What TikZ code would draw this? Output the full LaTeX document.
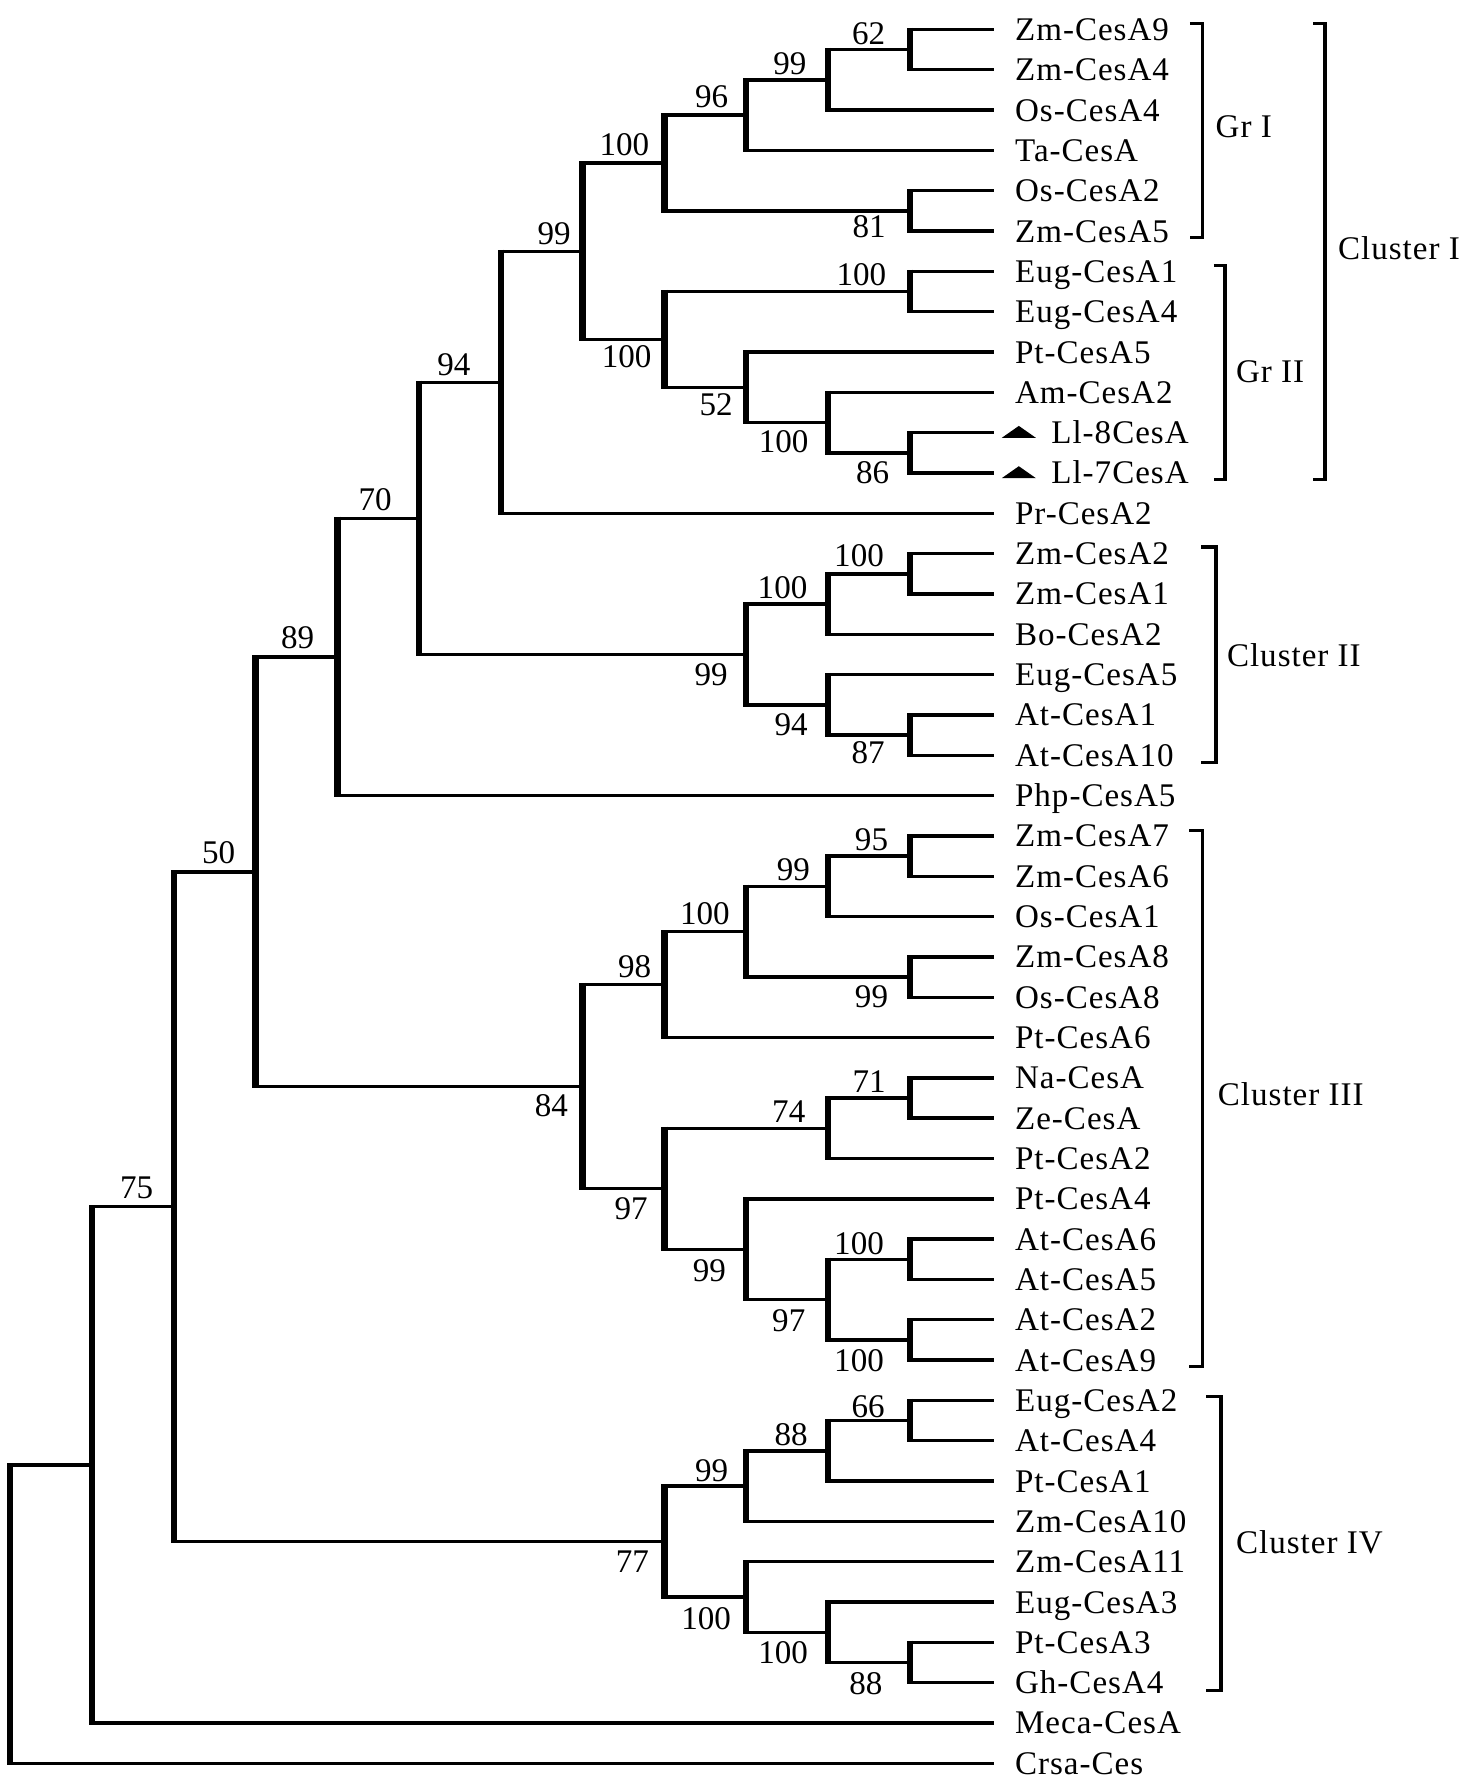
\documentclass[tikz,border=0pt]{standalone}
\usepackage{fontspec}
\setmainfont{Liberation Serif}
\newfontfamily\leaffont[LetterSpace=3]{Liberation Serif}
\newcommand{\ly}[1]{26+35.58*(#1)}
\newcommand{\hx}[1]{875-72.17*(#1)}
\newcommand{\clade}[3]{%
  \draw[vline] (#1 |- #2) -- (#1 |- #3);
  \draw[hline] (#1 |- #2) -- (#2);
  \draw[hline] (#1 |- #3) -- (#3);}
\tikzset{
  vline/.style={line width=1.6pt, shorten <=-0.42pt, shorten >=-0.42pt},
  hline/.style={line width=0.85pt},
  bracket/.style={line width=0.85pt},
  leaf/.style={font=\leaffont\fontsize{8.3}{10}\selectfont, anchor=west, inner sep=0pt, text height=5.5pt, text depth=0pt},
  grp/.style={font=\leaffont\fontsize{8.3}{10}\selectfont, anchor=west, inner sep=0pt, text height=5.5pt, text depth=0pt},
  boot/.style={font=\fontsize{8.3}{10}\selectfont, anchor=center, inner sep=0pt, text height=5.6pt, text depth=0pt},
}
\begin{document}
\begin{tikzpicture}[x=0.1mm, y=-0.1mm]
\useasboundingbox (0,0) rectangle (1302,1568);
\fill[white] (0,0) rectangle (1302,1568);

% leaves
\foreach \i/\t in {0/Zm-CesA9,1/Zm-CesA4,2/Os-CesA4,3/Ta-CesA,4/Os-CesA2,5/Zm-CesA5,
  6/Eug-CesA1,7/Eug-CesA4,8/Pt-CesA5,9/Am-CesA2,12/Pr-CesA2,13/Zm-CesA2,14/Zm-CesA1,
  15/Bo-CesA2,16/Eug-CesA5,17/At-CesA1,18/At-CesA10,19/Php-CesA5,20/Zm-CesA7,21/Zm-CesA6,
  22/Os-CesA1,23/Zm-CesA8,24/Os-CesA8,25/Pt-CesA6,26/Na-CesA,27/Ze-CesA,28/Pt-CesA2,
  29/Pt-CesA4,30/At-CesA6,31/At-CesA5,32/At-CesA2,33/At-CesA9,34/Eug-CesA2,35/At-CesA4,
  36/Pt-CesA1,37/Zm-CesA10,38/Zm-CesA11,39/Eug-CesA3,40/Pt-CesA3,41/Gh-CesA4,
  42/Meca-CesA,43/Crsa-Ces}{
  \coordinate (l\i) at (877,{\ly{\i}});
  \node[leaf] (t\i) at ([xshift=1.8mm]l\i) {\t};
}
\foreach \i/\t in {10/Ll-8CesA,11/Ll-7CesA}{
  \coordinate (l\i) at (877,{\ly{\i}});
  \fill[shift={(l\i)}] (7,4.5) -- (37,4.5) -- (22,-6) -- cycle;
  \node[leaf] (t\i) at ([xshift=5mm]l\i) {\t};
}

% internal nodes
\coordinate (a1) at ({\hx{1}},{\ly{0.5}});
\coordinate (a2) at ({\hx{2}},{\ly{1.25}});
\coordinate (a3) at ({\hx{3}},{\ly{2.125}});
\coordinate (a4) at ({\hx{1}},{\ly{4.5}});
\coordinate (a5) at ({\hx{4}},{\ly{3.3125}});
\coordinate (b1) at ({\hx{1}},{\ly{6.5}});
\coordinate (b2) at ({\hx{1}},{\ly{10.5}});
\coordinate (b3) at ({\hx{2}},{\ly{9.75}});
\coordinate (b4) at ({\hx{3}},{\ly{8.875}});
\coordinate (b5) at ({\hx{4}},{\ly{7.6875}});
\coordinate (c1) at ({\hx{5}},{\ly{5.5}});
\coordinate (c2) at ({\hx{6}},{\ly{8.75}});
\coordinate (d1) at ({\hx{1}},{\ly{13.5}});
\coordinate (d2) at ({\hx{2}},{\ly{14.25}});
\coordinate (d3) at ({\hx{1}},{\ly{17.5}});
\coordinate (d4) at ({\hx{2}},{\ly{16.75}});
\coordinate (d5) at ({\hx{3}},{\ly{15.5}});
\coordinate (c3) at ({\hx{7}},{\ly{12.125}});
\coordinate (c4) at ({\hx{8}},{\ly{15.5625}});
\coordinate (e1) at ({\hx{1}},{\ly{20.5}});
\coordinate (e2) at ({\hx{2}},{\ly{21.25}});
\coordinate (e3) at ({\hx{1}},{\ly{23.5}});
\coordinate (e4) at ({\hx{3}},{\ly{22.375}});
\coordinate (e5) at ({\hx{4}},{\ly{23.6875}});
\coordinate (f1) at ({\hx{1}},{\ly{26.5}});
\coordinate (f2) at ({\hx{2}},{\ly{27.25}});
\coordinate (f3) at ({\hx{1}},{\ly{30.5}});
\coordinate (f4) at ({\hx{1}},{\ly{32.5}});
\coordinate (f5) at ({\hx{2}},{\ly{31.5}});
\coordinate (f6) at ({\hx{3}},{\ly{30.25}});
\coordinate (f7) at ({\hx{4}},{\ly{28.75}});
\coordinate (e6) at ({\hx{5}},{\ly{26.21875}});
\coordinate (c5) at ({\hx{9}},{\ly{20.890625}});
\coordinate (g1) at ({\hx{1}},{\ly{34.5}});
\coordinate (g2) at ({\hx{2}},{\ly{35.25}});
\coordinate (g3) at ({\hx{3}},{\ly{36.125}});
\coordinate (g4) at ({\hx{1}},{\ly{40.5}});
\coordinate (g5) at ({\hx{2}},{\ly{39.75}});
\coordinate (g6) at ({\hx{3}},{\ly{38.875}});
\coordinate (g7) at ({\hx{4}},{\ly{37.5}});
\coordinate (c6) at ({\hx{10}},{\ly{29.1953125}});
\coordinate (c7) at ({\hx{11}},{\ly{35.59765625}});
\coordinate (root) at ({\hx{12}},{\ly{39.298828125}});

% branches
\clade{a1}{l0}{l1}
\clade{a2}{a1}{l2}
\clade{a3}{a2}{l3}
\clade{a4}{l4}{l5}
\clade{a5}{a3}{a4}
\clade{b1}{l6}{l7}
\clade{b2}{l10}{l11}
\clade{b3}{l9}{b2}
\clade{b4}{l8}{b3}
\clade{b5}{b1}{b4}
\clade{c1}{a5}{b5}
\clade{c2}{c1}{l12}
\clade{d1}{l13}{l14}
\clade{d2}{d1}{l15}
\clade{d3}{l17}{l18}
\clade{d4}{l16}{d3}
\clade{d5}{d2}{d4}
\clade{c3}{c2}{d5}
\clade{c4}{c3}{l19}
\clade{e1}{l20}{l21}
\clade{e2}{e1}{l22}
\clade{e3}{l23}{l24}
\clade{e4}{e2}{e3}
\clade{e5}{e4}{l25}
\clade{f1}{l26}{l27}
\clade{f2}{f1}{l28}
\clade{f3}{l30}{l31}
\clade{f4}{l32}{l33}
\clade{f5}{f3}{f4}
\clade{f6}{l29}{f5}
\clade{f7}{f2}{f6}
\clade{e6}{e5}{f7}
\clade{c5}{c4}{e6}
\clade{g1}{l34}{l35}
\clade{g2}{g1}{l36}
\clade{g3}{g2}{l37}
\clade{g4}{l40}{l41}
\clade{g5}{l39}{g4}
\clade{g6}{l38}{g5}
\clade{g7}{g3}{g6}
\clade{c6}{c5}{g7}
\clade{c7}{c6}{l42}
\clade{root}{c7}{l43}

% bootstrap values
\foreach \n/\x/\y/\v in {ba1/766.5/29/62, ba2/697/56/99, ba3/628/85/96, ba5/551/127/100,
  ba4/767/200/81, bb1/760/242/100, bb5/553/314.5/100, bb4/632/357/52, bb3/691.5/389/100,
  bb2/770/416.5/86, bc1/489/205.6/99, bc2/400.5/321.5/94, bc3/331/440.5/70,
  bc4/262.7/562/89, bc5/193/752.5/50, bc6/120.5/1048/75,
  bd1/758/490/100, bd2/690.5/518/100, bd5/627.5/595/99, bd4/698/639/94, bd3/766/664/87,
  be1/769/740.5/95, be2/700/767/99, be4/622/806/100, be3/769/879/99, be5/560/852.5/98,
  be6/486.5/975.6/84, bf1/767/954/71, bf2/696/980.5/74, bf7/557/1066/97,
  bf6/626/1120.5/99, bf3/758/1097/100, bf5/696/1164.7/97, bf4/758/1200/100,
  bg1/766/1241/66, bg2/698/1266/88, bg3/628/1297/99, bg7/558/1377.5/77,
  bg6/623/1428/100, bg5/691/1457.6/100, bg4/764/1485.5/88}{
  \node[boot] (\n) at (\x,\y) {\v};
}

% group brackets
\draw[bracket] (1050,20.6) -- (1061,20.6) -- (1061,209.5) -- (1050,209.5);
\node[grp] (gr1) at (1072,112) {Gr I};
\draw[bracket] (1071,234.5) -- (1081,234.5) -- (1081,423) -- (1071,423);
\node[grp] (gr2) at (1090,328) {Gr II};
\draw[bracket] (1159,20.6) -- (1169,20.6) -- (1169,423) -- (1159,423);
\node[grp] (cl1) at (1180,219) {Cluster I};
\draw[bracket] (1060,482.5) -- (1073,482.5) -- (1073,673) -- (1060,673);
\node[grp] (cl2) at (1082,578) {Cluster II};
\draw[bracket] (1049.5,733) -- (1061,733) -- (1061,1206) -- (1049.5,1206);
\node[grp] (cl3) at (1074,966) {Cluster III};
\draw[bracket] (1064.5,1232) -- (1077.5,1232) -- (1077.5,1491.5) -- (1064.5,1491.5);
\node[grp] (cl4) at (1090,1361) {Cluster IV};
\end{tikzpicture}
\end{document}
